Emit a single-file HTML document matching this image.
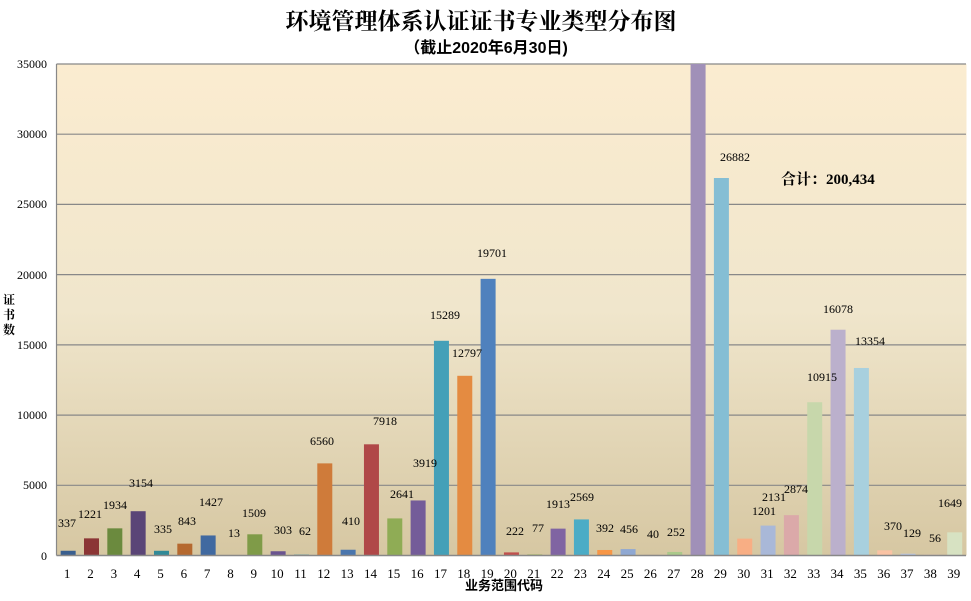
<!DOCTYPE html>
<html><head><meta charset="utf-8"><style>
html,body{margin:0;padding:0;background:#fff;}
svg text{font-family:"Liberation Serif","Noto Serif CJK SC",serif;}
</style></head><body>
<svg width="971" height="596" xmlns="http://www.w3.org/2000/svg">
<defs><linearGradient id="bg" x1="0" y1="0" x2="0" y2="1">
<stop offset="0" stop-color="#fbecd0"/><stop offset="0.5" stop-color="#f0e6cc"/><stop offset="1" stop-color="#d6c7a2"/></linearGradient></defs>
<rect x="56.5" y="64" width="910" height="491.5" fill="url(#bg)"/>
<g stroke="#888" stroke-width="1.2">
<line x1="56.5" y1="64" x2="966" y2="64"/>
<line x1="56.5" y1="134.2" x2="966" y2="134.2"/>
<line x1="56.5" y1="204.4" x2="966" y2="204.4"/>
<line x1="56.5" y1="274.6" x2="966" y2="274.6"/>
<line x1="56.5" y1="344.9" x2="966" y2="344.9"/>
<line x1="56.5" y1="415.1" x2="966" y2="415.1"/>
<line x1="56.5" y1="485.3" x2="966" y2="485.3"/>
<line x1="56.5" y1="64" x2="56.5" y2="555.5"/>
</g>
<g font-size="12" text-anchor="end" fill="#000" style="font-family:'Liberation Sans',sans-serif">
<text x="47" y="68">35000</text><text x="47" y="138">30000</text><text x="47" y="208">25000</text><text x="47" y="279">20000</text><text x="47" y="349">15000</text><text x="47" y="419">10000</text><text x="47" y="489">5000</text><text x="47" y="560">0</text>
</g>
<g id="bars"></g>
<line x1="56.5" y1="555.5" x2="966" y2="555.5" stroke="#888" stroke-width="1.5"/>
<g id="xl" font-size="13" text-anchor="middle"></g>
<g id="vl" font-size="12" text-anchor="middle"></g>
<text x="481" y="29" font-size="23" font-weight="bold" text-anchor="middle" style="font-family:'Noto Serif CJK SC',serif">环境管理体系认证证书专业类型分布图</text>
<text x="486" y="53" font-size="16" font-weight="bold" text-anchor="middle" style="font-family:'Liberation Sans','Noto Sans CJK SC',sans-serif">（截止2020年6月30日)</text>
<text x="781" y="184" font-size="15" font-weight="bold" style="font-family:'Liberation Serif','Noto Serif CJK SC',serif">合计：200,434</text>
<g font-size="12" font-weight="bold" text-anchor="middle" style="font-family:'Noto Sans CJK SC',sans-serif">
<text x="9" y="304">证</text><text x="9" y="319">书</text><text x="9" y="334">数</text></g>
<text x="504" y="590" font-size="13" font-weight="bold" text-anchor="middle" style="font-family:'Noto Sans CJK SC',sans-serif">业务范围代码</text>
</svg>
<script>
var v=[337,1221,1934,3154,335,843,1427,13,1509,303,62,6560,410,7918,2641,3919,15289,12797,19701,222,77,1913,2569,392,456,40,252,50000,26882,1201,2131,2874,10915,16078,13354,370,129,56,1649];
var c=["#3a5f8f","#8b3535","#6b8a3e","#5a4577","#318a98","#b5692f","#4069a0","#a04040","#7f9b48","#6a5490","#3598b0","#cf7b3a","#4a76ad","#b04848","#8fac55","#745c99","#44a0b8","#e48b41","#4f81bd","#c0504d","#9bbb59","#8064a2","#4bacc6","#f79646","#8fa8d2","#d08a8a","#aac98a","#a090b8","#85bed4","#f8ae84","#a9b8d8","#dba9a9","#c7d7ab","#bbb0cc","#a8d0de","#fac3a4","#b8c6e0","#e6c2c2","#d7e2c2"];
var lp=[[67,523],[90,514],[115,505],[141,483],[163,529],[187,521],[211,502],[234,533],[254,513],[283,530],[305,531],[322,441],[351,521],[385,421],[402,494],[425,463],[445,315],[467,353],[492,253],[515,531],[538,528],[558,504],[582,497],[605,528],[629,529],[653,534],[676,532],null,[735,157],[764,511],[774,497],[796,489],[822,377],[838,309],[870,341],[893,526],[912,533],[935,538],[950,503]];
var ns="http://www.w3.org/2000/svg",b=document.getElementById("bars"),xl=document.getElementById("xl"),vl=document.getElementById("vl");
var cw=23.33;
for(var i=0;i<39;i++){
 var cx=56.5+cw*(i+0.5);
 var h=Math.min(v[i],35000)*491.5/35000;
 var r=document.createElementNS(ns,"rect");
 r.setAttribute("x",cx-7.5);r.setAttribute("width",15);r.setAttribute("y",555.5-h);r.setAttribute("height",h);r.setAttribute("fill",c[i]);b.appendChild(r);
 var t=document.createElementNS(ns,"text");t.setAttribute("x",cx-1);t.setAttribute("y",578);t.textContent=i+1;xl.appendChild(t);
 if(lp[i]){var u=document.createElementNS(ns,"text");u.setAttribute("x",lp[i][0]);u.setAttribute("y",lp[i][1]+4);u.textContent=v[i];vl.appendChild(u);}
}
</script>
</body></html>
